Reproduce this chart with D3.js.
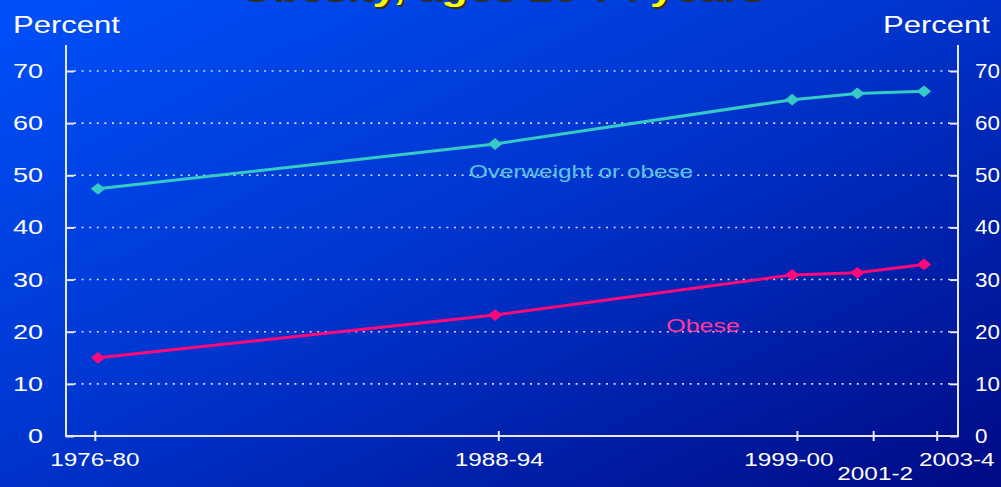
<!DOCTYPE html>
<html>
<head>
<meta charset="utf-8">
<script src="https://cdn.jsdelivr.net/npm/d3@7"></script>
<style>
html,body{margin:0;padding:0;background:#0030c8;}
svg{display:block;}
text{font-family:"Liberation Sans", Arial, sans-serif;}
</style>
</head>
<body>
<script>
// ---- data ----
const surveys = ["1976-80", "1988-94", "1999-00", "2001-2", "2003-4"];
const surveyMid = [1978, 1990.5, 1999.85, 2001.9, 2004];
const tickYears = [1977.9, 1990.6, 2000.0, 2002.4, 2004.4];
const overweightOrObese = [47.4, 56.0, 64.5, 65.7, 66.1];
const obese = [15.0, 23.2, 30.9, 31.3, 32.9];
const yTicks = [0, 10, 20, 30, 40, 50, 60, 70];
const titleText = "Obesity, ages 20-74 years";
const yTitle = "Percent";

// ---- setup ----
const W = 1001, H = 487, SX = 1.35;
const svg = d3.select("body").append("svg").attr("width", W).attr("height", H);
const defs = svg.append("defs");
const grad = defs.append("linearGradient").attr("id", "bg")
  .attr("x1", 0).attr("y1", 0).attr("x2", 1).attr("y2", 1);
grad.append("stop").attr("offset", 0).attr("stop-color", "#0050fa");
grad.append("stop").attr("offset", 0.45).attr("stop-color", "#0036d0");
grad.append("stop").attr("offset", 1).attr("stop-color", "#000a84");
svg.append("rect").attr("width", W).attr("height", H).attr("fill", "url(#bg)");

const x = d3.scaleLinear().domain([1978, 2004]).range([98, 924]);
const y = d3.scaleLinear().domain([0, 70]).range([436, 71]);
const xL = 66, xR = 958;

function sText(g, px, py, txt, size, anchor, fill, weight, sx) {
  return g.append("text")
    .attr("transform", `translate(${px},${py}) scale(${sx || SX},1)`)
    .attr("text-anchor", anchor)
    .attr("font-size", size)
    .attr("font-weight", weight || "normal")
    .attr("fill", fill)
    .text(txt);
}

// title (mostly cut off at the top, as in the reference)
const tg = svg.append("g");
sText(tg, 240, 2, titleText, 32, "start", "#2e2e26", "bold");
sText(tg, 238, 0, titleText, 32, "start", "#ffff00", "bold");

// grid lines
const grid = svg.append("g");
yTicks.filter(d => d > 0).forEach(v => {
  grid.append("line").attr("x1", xL + 8).attr("x2", xR - 8)
    .attr("y1", y(v)).attr("y2", y(v))
    .attr("stroke", "#d6dcf4").attr("stroke-width", 1.6)
    .attr("stroke-dasharray", "2,5.6");
});

// axes
const axisColor = "#e6e8f4";
const left = svg.append("g").attr("transform", `translate(${xL},0)`)
  .call(d3.axisRight(y).tickValues(yTicks).tickSize(8).tickFormat(""));
const right = svg.append("g").attr("transform", `translate(${xR},0)`)
  .call(d3.axisLeft(y).tickValues(yTicks).tickSize(8).tickFormat(""));
[left, right].forEach(a => {
  a.select(".domain").remove();
  a.selectAll("line").attr("stroke", axisColor).attr("stroke-width", 2);
});
svg.append("line").attr("x1", xL).attr("x2", xL).attr("y1", y(0)).attr("y2", y(75))
  .attr("stroke", axisColor).attr("stroke-width", 2);
svg.append("line").attr("x1", xR).attr("x2", xR).attr("y1", y(0)).attr("y2", y(75))
  .attr("stroke", axisColor).attr("stroke-width", 2);
svg.append("line").attr("x1", xL - 1).attr("x2", xR + 1).attr("y1", y(0)).attr("y2", y(0))
  .attr("stroke", axisColor).attr("stroke-width", 2);

// x ticks crossing the axis
const xt = svg.append("g").attr("transform", `translate(0,${y(0) + 5})`)
  .call(d3.axisBottom(x).tickValues(tickYears).tickSize(10).tickFormat(""));
xt.select(".domain").remove();
xt.selectAll("line").attr("stroke", axisColor).attr("stroke-width", 2).attr("y1", -10).attr("y2", 0);

// y tick labels
const labs = svg.append("g");
yTicks.forEach(v => {
  sText(labs, 43, y(v) + 7, String(v), 20, "end", "#ffffff");
  sText(labs, 975, y(v) + 7, String(v), 20, "start", "#ffffff", "normal", 1.12);
});
sText(labs, 13, 33, yTitle, 23, "start", "#ffffff");
sText(labs, 990, 33, yTitle, 23, "end", "#ffffff");

// x labels
const labelShift = [0, 1, -8, 2, 20];
const labelRow = [0, 0, 0, 1, 0];
surveys.forEach((s, i) => {
  sText(labs, x(tickYears[i]) + labelShift[i], 466 + labelRow[i] * 14, s, 18, "middle", "#ffffff");
});

// series
const line = d3.line().x((d, i) => x(surveyMid[i])).y(d => y(d));
const series = [
  {vals: overweightOrObese, color: "#35cac6"},
  {vals: obese, color: "#ff087a"}
];
const diamond = d3.symbol().type(d3.symbolSquare).size(86);
series.forEach(s => {
  svg.append("path").datum(s.vals).attr("d", line)
    .attr("fill", "none").attr("stroke", s.color).attr("stroke-width", 3);
  svg.append("g").selectAll("path").data(s.vals).join("path")
    .attr("d", diamond)
    .attr("transform", (d, i) => `translate(${x(surveyMid[i])},${y(d)}) scale(1.1,0.9) rotate(45)`)
    .attr("fill", s.color);
});

// series labels
sText(svg, 581, 178, "Overweight or obese", 18, "middle", "#5cc4e6");
sText(svg, 703, 332, "Obese", 18.5, "middle", "#ff3a96");
</script>
</body>
</html>
